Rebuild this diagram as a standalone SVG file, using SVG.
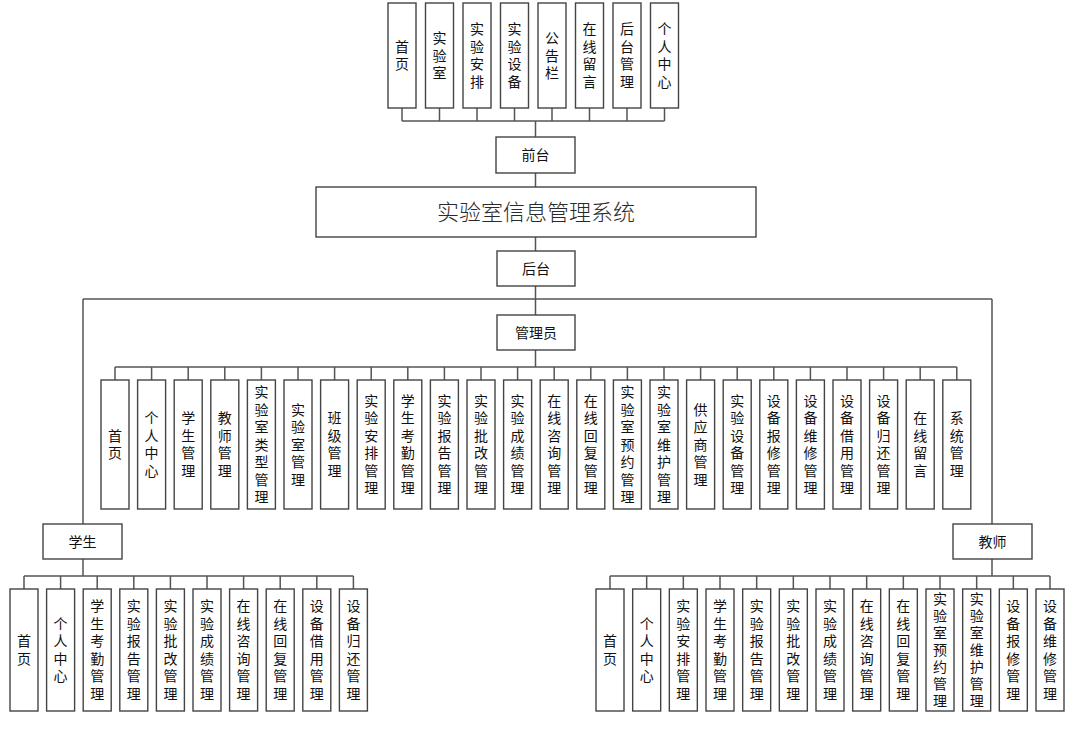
<svg xmlns="http://www.w3.org/2000/svg" width="1085" height="731" viewBox="0 0 1085 731">
<style>
rect{fill:#fff;stroke:#444;stroke-width:1.4}
text{font-family:"Liberation Sans","Noto Sans CJK SC",sans-serif;font-size:14px;fill:#111;text-anchor:middle;dominant-baseline:central}
.t{font-size:22px;fill:#2a2a2a;font-weight:300}
#conn path{fill:none;stroke:#555;stroke-width:1.5}
</style>
<rect x="0" y="0" width="1085" height="731" style="stroke:none"/>
<g id="conn">
<path d="M402 108V121M439.5 108V121M477 108V121M514.5 108V121M552 108V121M589.5 108V121M627 108V121M664.5 108V121M402 121H664.5M535.5 121V137"/>
<path d="M535.5 173V187M535.5 237V251M535.5 286V315M83 299H992M83 299V524M992 299V524"/>
<path d="M535.5 350V367M115 367H956.8M115 367V380M151.6 367V380M188.2 367V380M224.8 367V380M261.4 367V380M298 367V380M334.6 367V380M371.2 367V380M407.8 367V380M444.4 367V380M481 367V380M517.6 367V380M554.2 367V380M590.8 367V380M627.4 367V380M664 367V380M700.6 367V380M737.2 367V380M773.8 367V380M810.4 367V380M847 367V380M883.6 367V380M920.2 367V380M956.8 367V380"/>
<path d="M83 559V576M24 576H353.4M24 576V589M60.6 576V589M97.2 576V589M133.8 576V589M170.4 576V589M207 576V589M243.6 576V589M280.2 576V589M316.8 576V589M353.4 576V589"/>
<path d="M992 559V576M610 576H1050M610 576V589M646.67 576V589M683.33 576V589M720 576V589M756.67 576V589M793.33 576V589M830 576V589M866.67 576V589M903.33 576V589M940 576V589M976.67 576V589M1013.33 576V589M1050 576V589"/>
</g>
<!-- top front-end nodes -->
<g id="f1" transform="translate(388,3)"><rect width="28" height="105"/><text x="14 14" y="43.75 61.25">首页</text></g>
<g id="f2" transform="translate(425.5,3)"><rect width="28" height="105"/><text x="14 14 14" y="35 52.5 70">实验室</text></g>
<g id="f3" transform="translate(463,3)"><rect width="28" height="105"/><text x="14 14 14 14" y="26.25 43.75 61.25 78.75">实验安排</text></g>
<g id="f4" transform="translate(500.5,3)"><rect width="28" height="105"/><text x="14 14 14 14" y="26.25 43.75 61.25 78.75">实验设备</text></g>
<g id="f5" transform="translate(538,3)"><rect width="28" height="105"/><text x="14 14 14" y="35 52.5 70">公告栏</text></g>
<g id="f6" transform="translate(575.5,3)"><rect width="28" height="105"/><text x="14 14 14 14" y="26.25 43.75 61.25 78.75">在线留言</text></g>
<g id="f7" transform="translate(613,3)"><rect width="28" height="105"/><text x="14 14 14 14" y="26.25 43.75 61.25 78.75">后台管理</text></g>
<g id="f8" transform="translate(650.5,3)"><rect width="28" height="105"/><text x="14 14 14 14" y="26.25 43.75 61.25 78.75">个人中心</text></g>
<g id="front"><rect x="496" y="137" width="79" height="36"/><text x="535.5" y="155">前台</text></g>
<g id="title"><rect x="316" y="187" width="440" height="50"/><text class="t" x="536" y="212">实验室信息管理系统</text></g>
<g id="back"><rect x="497" y="251" width="78" height="35"/><text x="536" y="268.5">后台</text></g>
<g id="admin"><rect x="497" y="315" width="78" height="35"/><text x="536" y="332.5">管理员</text></g>
<g id="student"><rect x="43" y="524" width="79" height="35"/><text x="82.5" y="541.5">学生</text></g>
<g id="teacher"><rect x="953" y="524" width="79" height="35"/><text x="992.5" y="541.5">教师</text></g>
<!-- admin children -->
<g id="a1" transform="translate(101,380)"><rect width="28" height="129"/><text x="14 14" y="55.75 73.25">首页</text></g>
<g id="a2" transform="translate(137.6,380)"><rect width="28" height="129"/><text x="14 14 14 14" y="38.25 55.75 73.25 90.75">个人中心</text></g>
<g id="a3" transform="translate(174.2,380)"><rect width="28" height="129"/><text x="14 14 14 14" y="38.25 55.75 73.25 90.75">学生管理</text></g>
<g id="a4" transform="translate(210.8,380)"><rect width="28" height="129"/><text x="14 14 14 14" y="38.25 55.75 73.25 90.75">教师管理</text></g>
<g id="a5" transform="translate(247.4,380)"><rect width="28" height="129"/><text x="14 14 14 14 14 14 14" y="12 29.5 47 64.5 82 99.5 117">实验室类型管理</text></g>
<g id="a6" transform="translate(284,380)"><rect width="28" height="129"/><text x="14 14 14 14 14" y="29.5 47 64.5 82 99.5">实验室管理</text></g>
<g id="a7" transform="translate(320.6,380)"><rect width="28" height="129"/><text x="14 14 14 14" y="38.25 55.75 73.25 90.75">班级管理</text></g>
<g id="a8" transform="translate(357.2,380)"><rect width="28" height="129"/><text x="14 14 14 14 14 14" y="20.75 38.25 55.75 73.25 90.75 108.25">实验安排管理</text></g>
<g id="a9" transform="translate(393.8,380)"><rect width="28" height="129"/><text x="14 14 14 14 14 14" y="20.75 38.25 55.75 73.25 90.75 108.25">学生考勤管理</text></g>
<g id="a10" transform="translate(430.4,380)"><rect width="28" height="129"/><text x="14 14 14 14 14 14" y="20.75 38.25 55.75 73.25 90.75 108.25">实验报告管理</text></g>
<g id="a11" transform="translate(467,380)"><rect width="28" height="129"/><text x="14 14 14 14 14 14" y="20.75 38.25 55.75 73.25 90.75 108.25">实验批改管理</text></g>
<g id="a12" transform="translate(503.6,380)"><rect width="28" height="129"/><text x="14 14 14 14 14 14" y="20.75 38.25 55.75 73.25 90.75 108.25">实验成绩管理</text></g>
<g id="a13" transform="translate(540.2,380)"><rect width="28" height="129"/><text x="14 14 14 14 14 14" y="20.75 38.25 55.75 73.25 90.75 108.25">在线咨询管理</text></g>
<g id="a14" transform="translate(576.8,380)"><rect width="28" height="129"/><text x="14 14 14 14 14 14" y="20.75 38.25 55.75 73.25 90.75 108.25">在线回复管理</text></g>
<g id="a15" transform="translate(613.4,380)"><rect width="28" height="129"/><text x="14 14 14 14 14 14 14" y="12 29.5 47 64.5 82 99.5 117">实验室预约管理</text></g>
<g id="a16" transform="translate(650,380)"><rect width="28" height="129"/><text x="14 14 14 14 14 14 14" y="12 29.5 47 64.5 82 99.5 117">实验室维护管理</text></g>
<g id="a17" transform="translate(686.6,380)"><rect width="28" height="129"/><text x="14 14 14 14 14" y="29.5 47 64.5 82 99.5">供应商管理</text></g>
<g id="a18" transform="translate(723.2,380)"><rect width="28" height="129"/><text x="14 14 14 14 14 14" y="20.75 38.25 55.75 73.25 90.75 108.25">实验设备管理</text></g>
<g id="a19" transform="translate(759.8,380)"><rect width="28" height="129"/><text x="14 14 14 14 14 14" y="20.75 38.25 55.75 73.25 90.75 108.25">设备报修管理</text></g>
<g id="a20" transform="translate(796.4,380)"><rect width="28" height="129"/><text x="14 14 14 14 14 14" y="20.75 38.25 55.75 73.25 90.75 108.25">设备维修管理</text></g>
<g id="a21" transform="translate(833,380)"><rect width="28" height="129"/><text x="14 14 14 14 14 14" y="20.75 38.25 55.75 73.25 90.75 108.25">设备借用管理</text></g>
<g id="a22" transform="translate(869.6,380)"><rect width="28" height="129"/><text x="14 14 14 14 14 14" y="20.75 38.25 55.75 73.25 90.75 108.25">设备归还管理</text></g>
<g id="a23" transform="translate(906.2,380)"><rect width="28" height="129"/><text x="14 14 14 14" y="38.25 55.75 73.25 90.75">在线留言</text></g>
<g id="a24" transform="translate(942.8,380)"><rect width="28" height="129"/><text x="14 14 14 14" y="38.25 55.75 73.25 90.75">系统管理</text></g>
<!-- student children -->
<g id="s1" transform="translate(10,589)"><rect width="28" height="122"/><text x="14 14" y="52.25 69.75">首页</text></g>
<g id="s2" transform="translate(46.6,589)"><rect width="28" height="122"/><text x="14 14 14 14" y="34.75 52.25 69.75 87.25">个人中心</text></g>
<g id="s3" transform="translate(83.2,589)"><rect width="28" height="122"/><text x="14 14 14 14 14 14" y="17.25 34.75 52.25 69.75 87.25 104.75">学生考勤管理</text></g>
<g id="s4" transform="translate(119.8,589)"><rect width="28" height="122"/><text x="14 14 14 14 14 14" y="17.25 34.75 52.25 69.75 87.25 104.75">实验报告管理</text></g>
<g id="s5" transform="translate(156.4,589)"><rect width="28" height="122"/><text x="14 14 14 14 14 14" y="17.25 34.75 52.25 69.75 87.25 104.75">实验批改管理</text></g>
<g id="s6" transform="translate(193,589)"><rect width="28" height="122"/><text x="14 14 14 14 14 14" y="17.25 34.75 52.25 69.75 87.25 104.75">实验成绩管理</text></g>
<g id="s7" transform="translate(229.6,589)"><rect width="28" height="122"/><text x="14 14 14 14 14 14" y="17.25 34.75 52.25 69.75 87.25 104.75">在线咨询管理</text></g>
<g id="s8" transform="translate(266.2,589)"><rect width="28" height="122"/><text x="14 14 14 14 14 14" y="17.25 34.75 52.25 69.75 87.25 104.75">在线回复管理</text></g>
<g id="s9" transform="translate(302.8,589)"><rect width="28" height="122"/><text x="14 14 14 14 14 14" y="17.25 34.75 52.25 69.75 87.25 104.75">设备借用管理</text></g>
<g id="s10" transform="translate(339.4,589)"><rect width="28" height="122"/><text x="14 14 14 14 14 14" y="17.25 34.75 52.25 69.75 87.25 104.75">设备归还管理</text></g>
<!-- teacher children -->
<g id="t1" transform="translate(596,589)"><rect width="28" height="122"/><text x="14 14" y="52.25 69.75">首页</text></g>
<g id="t2" transform="translate(632.67,589)"><rect width="28" height="122"/><text x="14 14 14 14" y="34.75 52.25 69.75 87.25">个人中心</text></g>
<g id="t3" transform="translate(669.33,589)"><rect width="28" height="122"/><text x="14 14 14 14 14 14" y="17.25 34.75 52.25 69.75 87.25 104.75">实验安排管理</text></g>
<g id="t4" transform="translate(706,589)"><rect width="28" height="122"/><text x="14 14 14 14 14 14" y="17.25 34.75 52.25 69.75 87.25 104.75">学生考勤管理</text></g>
<g id="t5" transform="translate(742.67,589)"><rect width="28" height="122"/><text x="14 14 14 14 14 14" y="17.25 34.75 52.25 69.75 87.25 104.75">实验报告管理</text></g>
<g id="t6" transform="translate(779.33,589)"><rect width="28" height="122"/><text x="14 14 14 14 14 14" y="17.25 34.75 52.25 69.75 87.25 104.75">实验批改管理</text></g>
<g id="t7" transform="translate(816,589)"><rect width="28" height="122"/><text x="14 14 14 14 14 14" y="17.25 34.75 52.25 69.75 87.25 104.75">实验成绩管理</text></g>
<g id="t8" transform="translate(852.67,589)"><rect width="28" height="122"/><text x="14 14 14 14 14 14" y="17.25 34.75 52.25 69.75 87.25 104.75">在线咨询管理</text></g>
<g id="t9" transform="translate(889.33,589)"><rect width="28" height="122"/><text x="14 14 14 14 14 14" y="17.25 34.75 52.25 69.75 87.25 104.75">在线回复管理</text></g>
<g id="t10" transform="translate(926,589)"><rect width="28" height="122"/><text x="14 14 14 14 14 14 14" y="9.5 26.5 43.5 60.5 77.5 94.5 111.5">实验室预约管理</text></g>
<g id="t11" transform="translate(962.67,589)"><rect width="28" height="122"/><text x="14 14 14 14 14 14 14" y="9.5 26.5 43.5 60.5 77.5 94.5 111.5">实验室维护管理</text></g>
<g id="t12" transform="translate(999.33,589)"><rect width="28" height="122"/><text x="14 14 14 14 14 14" y="17.25 34.75 52.25 69.75 87.25 104.75">设备报修管理</text></g>
<g id="t13" transform="translate(1036,589)"><rect width="28" height="122"/><text x="14 14 14 14 14 14" y="17.25 34.75 52.25 69.75 87.25 104.75">设备维修管理</text></g>
</svg>
